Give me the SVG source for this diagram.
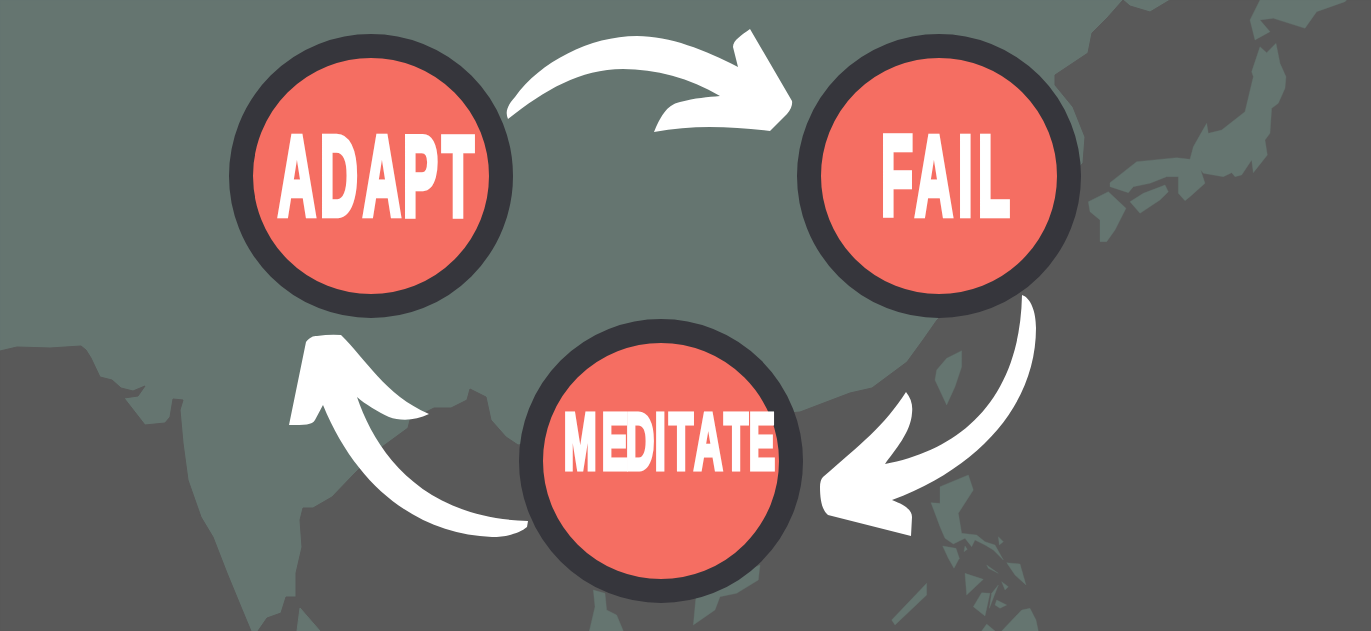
<svg xmlns="http://www.w3.org/2000/svg" width="1371" height="631" viewBox="0 0 1371 631">
<style>
.sea{fill:#595959;stroke:#595959;stroke-width:1;stroke-linejoin:round}
.land{fill:#657570;stroke:#657570;stroke-width:1;stroke-linejoin:round}
.ring{fill:#f56e62;stroke:#36363c;stroke-width:24}
.label{font-family:"Liberation Sans",Arial,sans-serif;font-weight:700;fill:#fff;stroke:#fff;stroke-linejoin:miter;vector-effect:non-scaling-stroke}
.arrow{fill:#fff}
</style>
<rect class="land" width="1371" height="631"/>
<g id="map">
<path class="sea" d="M0 351L17 347L50 348L81 346L86 350L91 358L100 377L112 380L121 388L133 391L145 386L138 396L124 398L145 425L165 423L170 417L173 399L183 400L180 410L183 443L188 480L201 517L213 537L227 573L241 607L251 631L0 631Z"/>
<path class="sea" d="M258 631L1371 631L1371 0L1170 0L1150 12L1130 6L1123 0L1108 17L1092 33L1088 53L1055 75L1055 85L1073 107L1085 137L1083 163L1000 260L937 320L923 340L907 362L872 388L850 393L800 412L600 430L518 445L506 437L491 420L486 397L470 389L467 400L451 408L434 408L410 420L408 428L382 447L355 473L332 497L313 508L303 508L300 520L302 547L296 573L296 597L286 597L281 613L267 618Z"/>
<path class="land" d="M297 631L300 608L320 631Z"/>
<g transform="translate(1040 0) scale(.33333)">
<path class="land" d="M660 0L630 60L645 120L690 95L660 60L700 55L795 85L830 35L915 5L920 0Z"/>
<path class="land" d="M660 140L680 158L708 130L720 190L738 230L735 265L715 310L695 325L690 400L675 420L682 465L640 518L635 480L605 525L585 530L575 518L550 530L490 520L482 510L495 550L450 590L435 602L415 580L415 530L380 530L330 550L280 560L265 578L210 560L210 548L290 485L410 473L450 478L460 440L500 370L505 400L545 390L615 335L640 230L635 215Z"/>
<path class="land" d="M270 605L310 580L375 555L385 575L360 600L300 640Z"/>
<path class="land" d="M145 605L205 575L258 625L225 690L200 725L180 725L180 660L150 635Z"/>
</g>
<g transform="translate(800 280) scale(.33333)">
<path class="land" d="M485 212L440 235L410 270L405 300L440 375L465 320L485 260Z"/>
<path class="land" d="M380 910L380 945L285 1035L275 1020Z"/>
</g>
<g transform="translate(930 470) scale(.33333)">
<path class="land" d="M30 50L115 15L130 60L85 130L95 190L140 195L165 215L195 225L220 270L190 240L165 225L135 210L125 230L105 205L70 222L45 205L30 170L3 98L30 100Z"/>
<path class="land" d="M38 228L78 235L88 265L72 295L55 265Z"/>
<path class="land" d="M105 228L112 238L102 245Z"/>
<path class="land" d="M230 278L270 282L288 345L255 315Z"/>
<path class="land" d="M105 310L160 328L110 375Z"/>
<path class="land" d="M155 368L180 370L165 438L130 410Z"/>
<path class="land" d="M205 345L178 415L185 370Z"/>
<path class="land" d="M200 390L230 405L210 415L195 405Z"/>
<path class="land" d="M205 200L220 215L208 225Z"/>
<path class="land" d="M170 285L205 310L175 295Z"/>
<path class="land" d="M215 335L235 350L225 360Z"/>
<path class="land" d="M155 483L170 462L195 483Z"/>
<path class="land" d="M215 483L275 420L300 415L318 450L325 483Z"/>
</g>
<g transform="translate(530 380) scale(.33333)">
<path class="land" d="M190 630L225 640L230 690L260 705L280 753L178 753L195 680Z"/>
<path class="land" d="M500 640L690 555L685 600L620 640L570 650L555 690L490 735L497 660Z"/>
</g>
</g>
<g id="connectors">
<path class="arrow" d="M508 119C505 112 507 106 515 97C540 62 590 36 637 36C670 36 705 50 738 67L733 47C733 40 742 35 750 29L792 101Q793 107 787 114L770 131C735 127 695 124 654 132C660 118 666 105 680 102C695 98 708 97 720 96C690 78 655 69 623 69C580 69 545 90 508 119Z"/>
<path class="arrow" d="M1022 295C1031 298 1036 312 1036 328C1036 400 985 465 892 500C905 505 912 510 912 517L911 536L828 515C822 510 820 500 820 487Q820 480 823 477C860 445 885 425 906 392C911 398 913 405 912 413C911 432 895 450 885 464C960 450 1020 400 1022 295Z"/>
<path class="arrow" d="M528 521L527 527C520 533 507 537 492 537C420 534 358 490 323 405L315 420C312 425 305 425 289 425L306 342C310 337 313 336 317 336Q330 334 341 335C365 358 385 395 429 414C415 421 400 421 389 417C378 412 365 404 357 397C375 450 420 518 528 521Z"/>
</g>
<g id="node-adapt">
<circle class="ring" cx="371" cy="176" r="130"/>
<text class="label" transform="translate(0 215) scale(.46 1)" x="604.3 695.7 789.1 876.1 960.9" font-size="114" stroke-width="5">ADAPT</text>
</g>
<g id="node-fail">
<circle class="ring" cx="939" cy="176" r="130"/>
<text class="label" transform="translate(0 215) scale(.46 1)" x="1915.2 1989.1 2082.6 2126.1" font-size="114" stroke-width="5">FAIL</text>
</g>
<g id="node-meditate">
<circle class="ring" cx="661" cy="461" r="130"/>
<text class="label" transform="translate(0 469) scale(.5 1)" x="1127.4 1203.4 1251.4 1309.4 1338 1388 1448 1497.4" font-size="79" stroke-width="4">MEDITATE</text>
</g>
</svg>
